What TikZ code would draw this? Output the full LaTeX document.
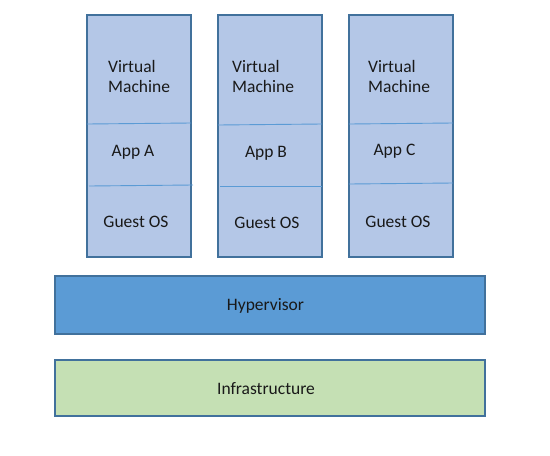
\documentclass[tikz,border=0pt]{standalone}
\usepackage{fontspec}
\setmainfont{Carlito}
\usetikzlibrary{positioning}
\definecolor{vmfill}{HTML}{B4C7E7}
\definecolor{boxline}{HTML}{41719C}
\definecolor{hypfill}{HTML}{5B9BD5}
\definecolor{infrafill}{HTML}{C5E0B4}

\begin{document}
\begin{tikzpicture}[x=1pt,y=-1pt,
  vmbox/.style={draw=boxline,fill=vmfill,line width=1.2pt,minimum width=104pt,minimum height=242pt,inner sep=0pt},
  layer/.style={draw=boxline,line width=1.2pt,minimum width=430pt,minimum height=57pt,inner sep=0pt},
  lbl/.style={font=\fontsize{17.5}{20}\selectfont,align=left,inner sep=0pt,text=black!90},
  split/.style={draw=hypfill,line width=0.9pt}]
\useasboundingbox (0,0) rectangle (550,456);
% virtual machines
\node[vmbox] (vmA) at (139,136) {};
\node[vmbox] (vmB) at (270,136) {};
\node[vmbox] (vmC) at (401,136) {};
\draw[split] (87,124) -- (191,123);
\draw[split] (89,186) -- (193,185);
\draw[split] (218,125) -- (322,124);
\draw[split] (220,186) -- (322,186);
\draw[split] (349,124) -- (453,123);
\draw[split] (349,184) -- (453,183);
\node[lbl,anchor=west] (vmtextA) at (108,76.5) {Virtual\\Machine};
\node[lbl,anchor=west] (vmtextB) at (232,76.5) {Virtual\\Machine};
\node[lbl,anchor=west] (vmtextC) at (368,76.5) {Virtual\\Machine};
\node[lbl] (appA) at (133,152.5) {App A};
\node[lbl] (appB) at (266,153.5) {App B};
\node[lbl] (appC) at (394.5,151.5) {App C};
\node[lbl] (osA) at (136,222) {Guest OS};
\node[lbl] (osB) at (267,222.5) {Guest OS};
\node[lbl] (osC) at (398,222) {Guest OS};
% lower layers
\node[layer,fill=hypfill,minimum height=58pt] (hyp) at (270,305) {};
\node[lbl] (hyptext) at (265.5,306) {Hypervisor};
\node[layer,fill=infrafill,minimum height=56pt] (infra) at (270,388) {};
\node[lbl] (infratext) at (266,389) {Infrastructure};
\end{tikzpicture}
\end{document}
